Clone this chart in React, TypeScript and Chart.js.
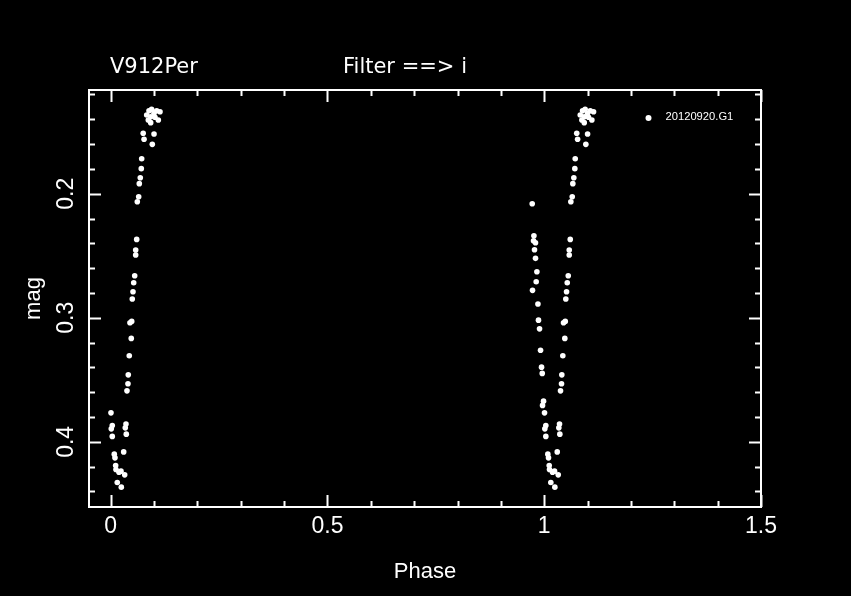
import { useEffect, useRef } from "react";
import { Chart, registerables } from "chart.js";

Chart.register(...registerables);

// Rising branch (phase 0 .. 0.12): phase and magnitude
const risingPhase = [
  0.0944, 0.1062, 0.1138, 0.0831, 0.0923, 0.1022, 0.1099, 0.0868, 0.0923, 0.0999, 0.0884,
  0.075, 0.077, 0.1, 0.096, 0.0715, 0.0706, 0.0683, 0.066, 0.0646, 0.0614,
  0.06, 0.0577, 0.0577, 0.0554, 0.0531, 0.0515, 0.0498, 0.0485, 0.0445, 0.0475,
  0.0429, 0.0406, 0.0399, 0.0376, 0.0007, 0.0037, 0.0014, 0.0353, 0.0337, 0.036,
  0.0037, 0.03, 0.0083, 0.0099, 0.0115, 0.0122, 0.0192, 0.0238, 0.0323, 0.0152, 0.0245,
];
const risingMag = [
  0.1319, 0.1331, 0.1339, 0.1365, 0.1379, 0.1384, 0.1406, 0.1406, 0.1427, 0.1352, 0.1331,
  0.1513, 0.1561, 0.1519, 0.1602, 0.1718, 0.1798, 0.1871, 0.1919, 0.2024, 0.2065,
  0.2368, 0.2454, 0.2494, 0.2661, 0.2718, 0.279, 0.2849, 0.3029, 0.304, 0.3166,
  0.3306, 0.346, 0.3532, 0.3589, 0.3766, 0.3868, 0.3895, 0.3857, 0.3887, 0.3938,
  0.3956, 0.4081, 0.4099, 0.4129, 0.419, 0.4223, 0.4244, 0.4236, 0.4266, 0.4327, 0.4365,
];
// Falling branch (phase 0.97 .. 1.0)
const fallingPhase = [
  0.9723, 0.9762, 0.9753, 0.9799, 0.9776, 0.9799, 0.9831, 0.9815, 0.973,
  0.9855, 0.9868, 0.9892, 0.9915, 0.9938, 0.9954, 0.9984, 0.9961,
];
const fallingMag = [
  0.2081, 0.2339, 0.2379, 0.2395, 0.2452, 0.2521, 0.2629, 0.271, 0.2779,
  0.2889, 0.3019, 0.3089, 0.3262, 0.3398, 0.3448, 0.3672, 0.3706,
];

const xTicks = [0, 0.5, 1, 1.5];
const yTicks = [0.2, 0.3, 0.4];
const xMinorStep = 0.1;
const yMinorStep = 0.02;
const xMin = -0.05;
const xMax = 1.5;
const yMin = 0.1164;
const yMax = 0.4525;

const seriesLabel = "20120920.G1";
const starName = "V912Per";
const filterText = "Filter ==> i";
const xTitle = "Phase";
const yTitle = "mag";

const decorPlugin = {
  id: "decor",
  afterDatasetsDraw(chart: any) {
    const { ctx, chartArea, scales } = chart;
    const { left, right, top, bottom } = chartArea;
    const x = scales.x;
    const y = scales.y;
    ctx.save();
    ctx.strokeStyle = "#fff";
    ctx.lineWidth = 2;
    ctx.strokeRect(left, top, right - left, bottom - top);

    ctx.beginPath();
    const kx0 = Math.ceil(xMin / xMinorStep - 1e-6);
    const kx1 = Math.floor(xMax / xMinorStep + 1e-6);
    for (let k = kx0; k <= kx1; k++) {
      const v = k * xMinorStep;
      const major = xTicks.some((t) => Math.abs(t - v) < 1e-6);
      const len = major ? 12 : 6;
      const px = Math.round(x.getPixelForValue(v)) + 0.5;
      ctx.moveTo(px, bottom);
      ctx.lineTo(px, bottom - len);
      ctx.moveTo(px, top);
      ctx.lineTo(px, top + len);
    }
    const ky0 = Math.ceil(yMin / yMinorStep - 1e-6);
    const ky1 = Math.floor(yMax / yMinorStep + 1e-6);
    for (let k = ky0; k <= ky1; k++) {
      const v = k * yMinorStep;
      const major = yTicks.some((t) => Math.abs(t - v) < 1e-6);
      const len = major ? 12 : 6;
      const py = Math.round(y.getPixelForValue(v)) + 0.5;
      ctx.moveTo(left, py);
      ctx.lineTo(left + len, py);
      ctx.moveTo(right, py);
      ctx.lineTo(right - len, py);
    }
    ctx.stroke();

    // legend
    ctx.fillStyle = "#fff";
    ctx.beginPath();
    ctx.arc(648.5, 118, 3, 0, Math.PI * 2);
    ctx.fill();
    ctx.font = "11.2px 'Liberation Sans', Arial, sans-serif";
    ctx.textBaseline = "alphabetic";
    ctx.textAlign = "left";
    ctx.fillText(seriesLabel, 665.5, 119.5);

    // header
    ctx.font = "21px 'DejaVu Sans', sans-serif";
    ctx.fillText(starName, 110, 72.5);
    ctx.fillText(filterText, 343, 72.5);
    ctx.restore();
  },
};

export default function App() {
  const ref = useRef<HTMLCanvasElement>(null);
  useEffect(() => {
    if (!ref.current) return;
    const points: { x: number; y: number }[] = [];
    const addCopies = (ph: number[], mg: number[]) => {
      ph.forEach((p, i) => {
        [p, p + 1].forEach((q) => {
          if (q >= xMin && q <= xMax) points.push({ x: q, y: mg[i] });
        });
      });
    };
    addCopies(risingPhase, risingMag);
    addCopies(fallingPhase, fallingMag);

    const tickFont = { family: "'Liberation Sans', Arial, sans-serif", size: 23 };
    const titleFont = { family: "'Liberation Sans', Arial, sans-serif", size: 22 };

    const chart = new Chart(ref.current, {
      type: "scatter",
      data: {
        datasets: [
          {
            label: seriesLabel,
            data: points,
            pointRadius: 2.8,
            pointHoverRadius: 2.8,
            backgroundColor: "#fff",
            borderColor: "#fff",
            borderWidth: 0,
            showLine: false,
          },
        ],
      },
      options: {
        responsive: false,
        animation: false,
        events: [],
        layout: { padding: { top: 90, right: 90, left: 0, bottom: 0 } },
        plugins: {
          legend: { display: false },
          tooltip: { enabled: false },
          title: { display: false },
        },
        scales: {
          x: {
            type: "linear",
            min: xMin,
            max: xMax,
            afterBuildTicks: (s: any) => {
              s.ticks = xTicks.map((v) => ({ value: v }));
            },
            afterFit: (s: any) => {
              s.height = 89;
            },
            grid: { display: false, drawTicks: false },
            border: { display: false },
            ticks: {
              color: "#fff",
              font: tickFont,
              padding: 6,
              autoSkip: false,
              maxRotation: 0,
              minRotation: 0,
              callback: (v: any) => String(v),
            },
            title: {
              display: true,
              text: xTitle,
              color: "#fff",
              font: titleFont,
              padding: { top: 0, bottom: 11 },
            },
          },
          y: {
            type: "linear",
            reverse: true,
            min: yMin,
            max: yMax,
            afterBuildTicks: (s: any) => {
              s.ticks = yTicks.map((v) => ({ value: v }));
            },
            afterFit: (s: any) => {
              s.width = 89;
            },
            grid: { display: false, drawTicks: false },
            border: { display: false },
            ticks: {
              color: "#fff",
              font: tickFont,
              padding: 6,
              autoSkip: false,
              minRotation: 90,
              maxRotation: 90,
              crossAlign: "center",
              callback: (v: any) => String(v),
            },
            title: {
              display: true,
              text: yTitle,
              color: "#fff",
              font: titleFont,
              padding: { top: 21, bottom: 0 },
            },
          },
        },
      } as any,
      plugins: [decorPlugin],
    });
    return () => chart.destroy();
  }, []);

  return (
    <div
      style={{
        position: "fixed",
        left: 0,
        top: 0,
        width: 851,
        height: 596,
        background: "#000",
      }}
    >
      <canvas ref={ref} width={851} height={596} style={{ display: "block" }} />
    </div>
  );
}
